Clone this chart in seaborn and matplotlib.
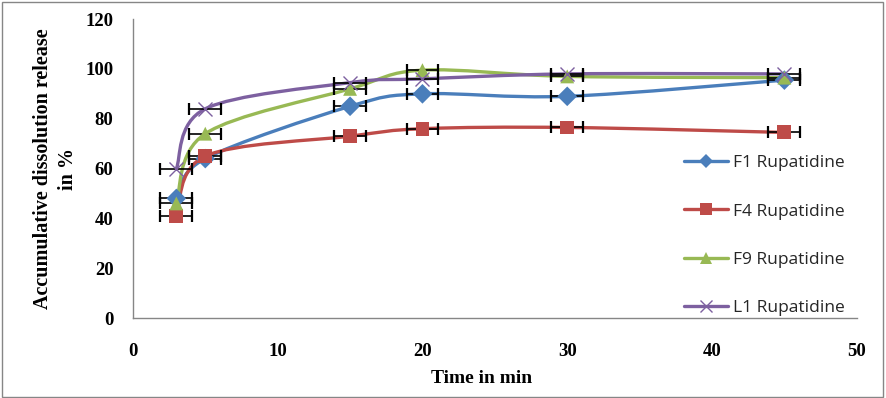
import numpy as np
import pandas as pd
import seaborn as sns
import matplotlib.pyplot as plt
from matplotlib.path import Path
from matplotlib.patches import PathPatch
from matplotlib.lines import Line2D

# data
time_min = [3, 5, 15, 20, 30, 45]
f1 = [48, 64, 85, 90, 89, 95.5]
f4 = [41, 65, 73, 76, 76.5, 74.5]
f9 = [46, 74, 92, 99.5, 97, 96.5]
l1 = [60, 84, 94.5, 96, 98, 98]
x_err = [1.1, 1.1, 1.1, 1.1, 1.1, 1.1]
names = ["F1 Rupatidine", "F4 Rupatidine", "F9 Rupatidine", "L1 Rupatidine"]

colors = ["#4A7EBB", "#BE4B48", "#98B954", "#7D60A0"]
markers = ["D", "s", "^", "x"]
msizes = [8, 11, 10, 10]


def smooth_path(xs, ys):
    # Excel-like smoothed line: cubic Bezier segments (Catmull-Rom style)
    pts = np.column_stack([xs, ys]).astype(float)
    n = len(pts)
    verts = [pts[0]]
    codes = [Path.MOVETO]
    for i in range(n - 1):
        p0 = pts[i - 1] if i > 0 else pts[i]
        p1 = pts[i]
        p2 = pts[i + 1]
        p3 = pts[i + 2] if i + 2 < n else pts[i + 1]
        c1 = p1 + (p2 - p0) / 6.0
        c2 = p2 - (p3 - p1) / 6.0
        verts += [c1, c2, p2]
        codes += [Path.CURVE4] * 3
    return Path(verts, codes)


df = pd.DataFrame({"time": time_min * 4,
                   "value": f1 + f4 + f9 + l1,
                   "series": sum([[n] * len(time_min) for n in names], [])})

sns.set_style("white")
plt.rcParams["font.family"] = ["Liberation Serif", "DejaVu Serif"]
plt.rcParams["font.weight"] = "bold"

fig = plt.figure(figsize=(8.86, 3.98), dpi=100)
ax = fig.add_axes([0.150, 0.201, 0.817, 0.751])

for name, col in zip(names, colors):
    sub = df[df["series"] == name]
    ax.add_patch(PathPatch(smooth_path(sub["time"], sub["value"]), facecolor="none",
                           edgecolor=col, lw=2.4, zorder=2))
    ax.errorbar(sub["time"], sub["value"], xerr=x_err, fmt="none", ecolor="black",
                elinewidth=1.2, capsize=4, capthick=1.6, zorder=3)

filled = df[df["series"] != names[3]]
sns.scatterplot(data=filled, x="time", y="value", hue="series", style="series",
                palette=colors[:3], markers=dict(zip(names[:3], markers[:3])), s=100,
                edgecolor="none", linewidth=0, ax=ax, legend=False, zorder=4)
sub = df[df["series"] == names[3]]
ax.plot(sub["time"], sub["value"], "x", color=colors[3], ms=10, mew=1.0, zorder=5)

ax.set_xlim(0, 50)
ax.set_ylim(0, 120)
ax.set_xticks(range(0, 51, 10))
ax.set_yticks(range(0, 121, 20))
ax.tick_params(axis="y", length=0, pad=14, labelsize=13.5, labelcolor="black")
ax.tick_params(axis="x", length=0, pad=18, labelsize=13.5, labelcolor="black")
for s in ["top", "right"]:
    ax.spines[s].set_visible(False)
for s in ["left", "bottom"]:
    ax.spines[s].set_color("#868686")
    ax.spines[s].set_linewidth(1.0)

ax.set_xlabel("Time in min", fontweight="bold", fontsize=14, color="black")
ax.xaxis.set_label_coords(0.482, -0.175)
ax.set_ylabel("Accumulative dissolution release\nin %", fontweight="bold",
              fontsize=14.5, linespacing=1.3, color="black")
ax.yaxis.set_label_coords(-0.076, 0.5)

handles = [Line2D([0], [0], color=c, lw=2.4, marker=m, ms=ms * 0.85,
                  mew=1.0 if m == "x" else 0)
           for c, m, ms in zip(colors, markers, msizes)]
ax.legend(handles, names, loc="upper left", bbox_to_anchor=(0.762, 0.545),
          frameon=False, borderpad=0, borderaxespad=0, labelspacing=1.85,
          handlelength=2.5, handletextpad=0.3,
          prop={"family": "Open Sans", "size": 12.5, "weight": "normal"})

fig.patches.append(plt.Rectangle((0.002, 0.003), 0.995, 0.993, transform=fig.transFigure,
                                 fill=False, edgecolor="#868686", lw=1.0))
fig.savefig("out.png", dpi=100)
